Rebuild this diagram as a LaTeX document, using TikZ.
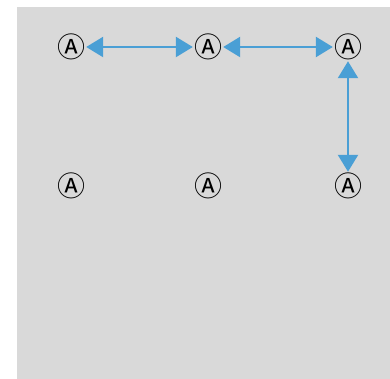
\documentclass[tikz,border=0pt]{standalone}
\usepackage{fontspec}
\newfontfamily\symfont{Noto Sans CJK JP}
\usetikzlibrary{positioning, arrows.meta}
\definecolor{bggray}{HTML}{D9D9D9}
\definecolor{linkblue}{HTML}{4A9FD5}

\begin{document}
\begin{tikzpicture}[x=1pt, y=1pt,
    place/.style={inner sep=1pt, font=\symfont\fontsize{28}{28}\selectfont},
    link/.style={linkblue, line width=2.5pt, {Triangle[length=17pt,width=20pt]}-{Triangle[length=17pt,width=20pt]}}]
    \useasboundingbox (0,0) rectangle (390,-379);
    \fill[bggray] (17,-7) rectangle (390,-379);

    \node[place] (0) at (71,-47) {Ⓐ};
    \node[place] (1) at (208,-47) {Ⓐ};
    \node[place] (2) at (348,-47) {Ⓐ};
    \node[place] (3) at (71,-186) {Ⓐ};
    \node[place] (4) at (208,-186) {Ⓐ};
    \node[place] (5) at (348,-186) {Ⓐ};

    \draw[link] (0) -- (1);
    \draw[link] (1) -- (2);
    \draw[link] (2) -- (5);
\end{tikzpicture}
\end{document}
